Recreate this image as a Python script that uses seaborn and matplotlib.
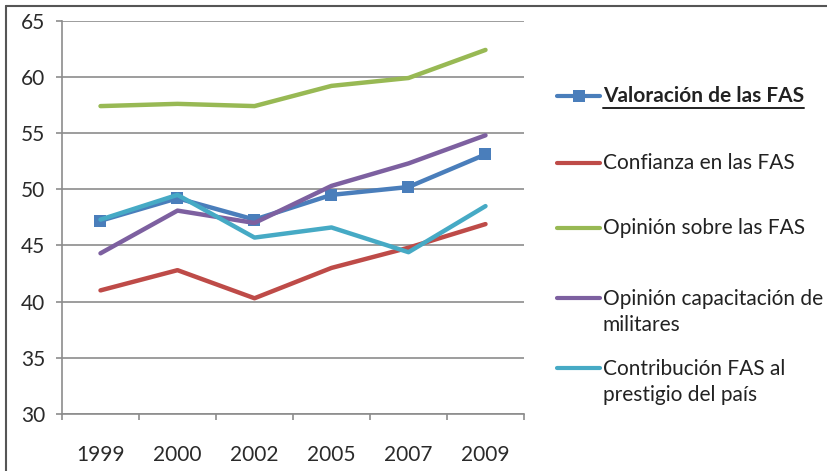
import matplotlib
matplotlib.use("Agg")
import matplotlib.pyplot as plt
from matplotlib.lines import Line2D
from matplotlib.ticker import FixedLocator
import seaborn as sns
import pandas as pd

years = ["1999", "2000", "2002", "2005", "2007", "2009"]
series_names = [
    "Valoración de las FAS",
    "Confianza en las FAS",
    "Opinión sobre las FAS",
    "Opinión capacitación de\nmilitares",
    "Contribución FAS al\nprestigio del país",
]
valoracion = [47.2, 49.2, 47.3, 49.5, 50.2, 53.1]
confianza = [41.0, 42.8, 40.3, 43.0, 44.8, 46.9]
opinion = [57.4, 57.6, 57.4, 59.2, 59.9, 62.4]
capacitacion = [44.3, 48.1, 47.0, 50.3, 52.3, 54.8]
contribucion = [47.3, 49.5, 45.7, 46.6, 44.4, 48.5]
colors = ["#4A7EBB", "#BE4B48", "#98B954", "#7D60A0", "#46AAC5"]

values = [valoracion, confianza, opinion, capacitacion, contribucion]
rows = []
for name, vals in zip(series_names, values):
    for y, v in zip(years, vals):
        rows.append({"Año": y, "Valor": v, "Serie": name})
df = pd.DataFrame(rows)

sns.set_theme(style="white")
plt.rcParams["font.family"] = ["Lato", "DejaVu Sans"]

fig = plt.figure(figsize=(8.27, 4.71), dpi=100)
ax = fig.add_axes([62 / 827, 1 - 414 / 471, (524 - 62) / 827, (414 - 20.7) / 471])

for i, name in enumerate(series_names):
    sub = df[df["Serie"] == name]
    sns.lineplot(data=sub, x="Año", y="Valor", color=colors[i], lw=3.2,
                 marker="s" if i == 0 else None, markersize=9,
                 markeredgewidth=0, ax=ax, sort=False, zorder=3 + i)

ax.set_xlim(-0.5, 5.5)
ax.set_ylim(30, 65)
ax.set_yticks(range(30, 70, 5))
ax.set_xlabel("")
ax.set_ylabel("")
grid_c = "#8C8C8C"
ax.grid(axis="y", color=grid_c, lw=1.2)
ax.grid(axis="x", visible=False)
for s in ["top", "right"]:
    ax.spines[s].set_visible(False)
for s in ["left", "bottom"]:
    ax.spines[s].set_color(grid_c)
    ax.spines[s].set_linewidth(1.2)
ax.set_axisbelow(True)
ax.tick_params(axis="y", which="major", left=True, length=4, width=1.2,
               color=grid_c, pad=8, labelsize=15, labelcolor="#2A2A2A")
ax.tick_params(axis="x", which="major", length=0, pad=22, labelsize=15,
               labelcolor="#2A2A2A")
ax.xaxis.set_minor_locator(FixedLocator([i - 0.5 for i in range(7)]))
ax.tick_params(axis="x", which="minor", bottom=True, length=4, width=1.2,
               color=grid_c)
if ax.get_legend():
    ax.get_legend().remove()

# legend
leg_y = [96, 163, 228, 298, 368]
for i, name in enumerate(series_names):
    yf = 1 - leg_y[i] / 471
    if i == 0:
        fig.add_artist(Line2D([557 / 827, 578.5 / 827, 600 / 827], [yf, yf, yf],
                              color=colors[i], lw=3, marker="s", markevery=[1],
                              markersize=8, markeredgewidth=0))
    else:
        fig.add_artist(Line2D([557 / 827, 600 / 827], [yf, yf], color=colors[i], lw=3))
    multi = "\n" in name
    t = fig.text(603 / 827, yf, name, ha="left", va="top" if multi else "center",
                 fontsize=15, color="#222222", linespacing=1.35,
                 fontweight="bold" if i == 0 else "normal")
    if multi:
        t.set_y(1 - (leg_y[i] - 9) / 471)
    if i == 0:
        fig.canvas.draw()
        bb = t.get_window_extent()
        x0, x1 = bb.x0 / fig.bbox.width, bb.x1 / fig.bbox.width
        uy = (bb.y0 - 1.5) / fig.bbox.height
        fig.add_artist(Line2D([x0, x1], [uy, uy], color="#222222", lw=1.4))

# outer frame
fig.add_artist(Line2D([6 / 827, 6 / 827], [0, 1 - 6 / 471], color="#555555", lw=1.5))
fig.add_artist(Line2D([6 / 827, 1], [1 - 6 / 471, 1 - 6 / 471], color="#555555", lw=1.5))

fig.savefig("out.png", dpi=100)
